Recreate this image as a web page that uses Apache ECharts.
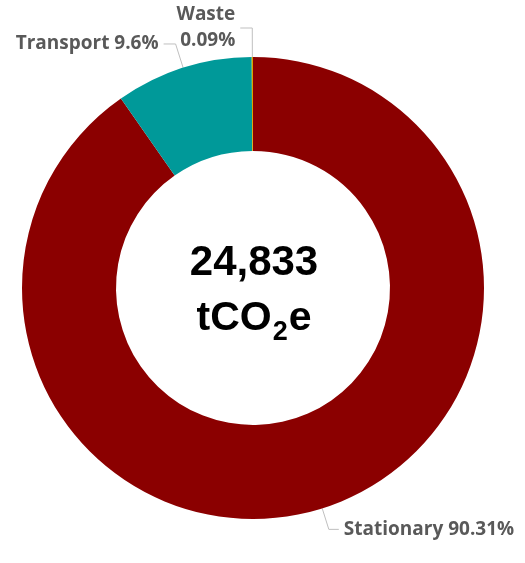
<!DOCTYPE html>
<html>
<head>
<meta charset="utf-8">
<script src="https://cdn.jsdelivr.net/npm/echarts@6/dist/echarts.min.js"></script>
<style>
  html, body { margin: 0; padding: 0; background: #fff; }
  #main { width: 525px; height: 563px; }
</style>
</head>
<body>
<div id="main"></div>
<script>
// emissions by source, tCO2e
var categories = ['Stationary', 'Transport', 'Waste'];
var emissions = [22427, 2384, 22];
var colors = ['#8B0000', '#009999', '#D9A300'];
var unitLabel = 'tCO';

var total = emissions.reduce(function (a, b) { return a + b; }, 0);

function pct(v) {
    return parseFloat((v / total * 100).toFixed(2)) + '%';
}

var lineLen = [22, 25, 29];
var lineLen2 = [10, 12, 12];

var pieData = categories.map(function (name, i) {
    return {
        name: name,
        value: emissions[i],
        itemStyle: { color: colors[i] },
        labelLine: { length: lineLen[i], length2: lineLen2[i] }
    };
});

var myChart = echarts.init(document.getElementById('main'));

var option = {
    animation: false,
    graphic: [{
        type: 'text',
        x: 254,
        y: 291,
        style: {
            text: '{n|' + total.toLocaleString('en-US') + '}\n{u|' + unitLabel + '}{s|2}{u|e}',
            align: 'center',
            verticalAlign: 'middle',
            rich: {
                n: { fontFamily: 'Liberation Sans', fontWeight: 'bold', fontSize: 42, lineHeight: 55, fill: '#000' },
                u: { fontFamily: 'Liberation Sans', fontWeight: 'bold', fontSize: 41, lineHeight: 55, fill: '#000' },
                s: { fontFamily: 'Liberation Sans', fontWeight: 'bold', fontSize: 27, lineHeight: 30, fill: '#000', verticalAlign: 'bottom', padding: [0, 1, 0, 1] }
            }
        }
    }],
    series: [{
        type: 'pie',
        center: [253, 288],
        radius: [137, 231],
        startAngle: 90,
        clockwise: true,
        avoidLabelOverlap: false,
        itemStyle: { borderWidth: 0 },
        label: {
            show: true,
            position: 'outside',
            fontFamily: 'Open Sans',
            fontWeight: 'bold',
            fontSize: 19,
            lineHeight: 26,
            color: '#595959',
            formatter: function (p) {
                if (p.name === 'Waste') return p.name + '\n' + pct(p.value);
                return p.name + ' ' + pct(p.value);
            }
        },
        labelLine: {
            show: true,
            smooth: false,
            lineStyle: { color: '#BFBFBF', width: 1 }
        },
        emphasis: { disabled: true },
        data: pieData
    }]
};

myChart.setOption(option);
</script>
</body>
</html>
